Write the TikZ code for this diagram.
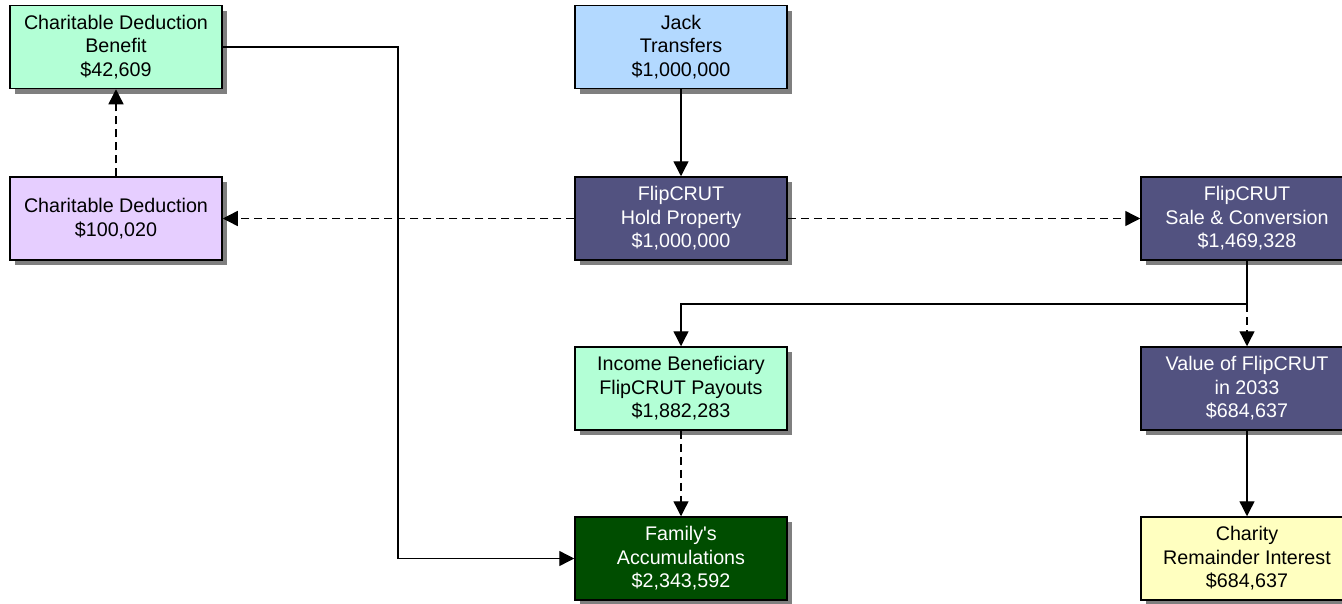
\documentclass[tikz,border=0pt]{standalone}
\usepackage{fontspec}
\setmainfont{Liberation Sans}
\usetikzlibrary{arrows.meta,shadows}
\definecolor{mint}{RGB}{179,255,214}
\definecolor{lav}{RGB}{230,206,255}
\definecolor{sky}{RGB}{179,217,255}
\definecolor{slate}{RGB}{82,82,128}
\definecolor{forest}{RGB}{0,77,0}
\definecolor{cream}{RGB}{255,255,192}
\tikzset{
  box/.style={draw=black, line width=1.5pt, minimum width=212pt, minimum height=83pt,
    inner sep=0pt, align=center, font=\fontsize{19.7}{23.5}\selectfont,
    drop shadow={shadow xshift=5pt, shadow yshift=-5pt, fill=black, opacity=0.5}},
  darkbox/.style={box, fill=slate, text=white},
  conn/.style={line width=1.4pt, -{Triangle[length=15pt,width=15pt]}},
  plain/.style={line width=1.4pt},
  dashline/.style={dash pattern=on 8pt off 5pt}
}
\begin{document}
\begin{tikzpicture}[x=1pt,y=-1pt]
\useasboundingbox (0,0) rectangle (1342,603);
\node[box, fill=mint] (cdb) at (116,47) {Charitable Deduction\\Benefit\\\$42,609};
\node[box, fill=lav] (cd) at (116,218.5) {Charitable Deduction\\\$100,020};
\node[box, fill=sky] (jack) at (681,47) {Jack\\Transfers\\\$1,000,000};
\node[darkbox] (hold) at (681,218.5) {FlipCRUT\\Hold Property\\\$1,000,000};
\node[darkbox] (sale) at (1247,218.5) {FlipCRUT\\Sale \& Conversion\\\$1,469,328};
\node[box, fill=mint] (income) at (681,388.5) {Income Beneficiary\\FlipCRUT Payouts\\\$1,882,283};
\node[darkbox] (value) at (1247,388.5) {Value of FlipCRUT\\in 2033\\\$684,637};
\node[box, fill=forest, text=white] (family) at (681,558.5) {Family\textquotesingle s\\Accumulations\\\$2,343,592};
\node[box, fill=cream] (charity) at (1247,558.5) {Charity\\Remainder Interest\\\$684,637};
\coordinate (split) at (1247,304);
\coordinate (turn) at (398,558.5);
\draw[conn] (jack) -- (hold);
\draw[conn, dashline] (cd) -- (cdb);
\draw[conn, dashline] (hold) -- (cd);
\draw[conn, dashline] (hold) -- (sale);
\draw[plain] (sale) -- (split);
\draw[conn] (split) -| (income);
\draw[conn, dashline] (split) -- (value);
\draw[conn, dashline] (income) -- (family);
\draw[conn] (value) -- (charity);
\draw[conn] (cdb.east) -| (turn) -- (family);
\end{tikzpicture}
\end{document}
